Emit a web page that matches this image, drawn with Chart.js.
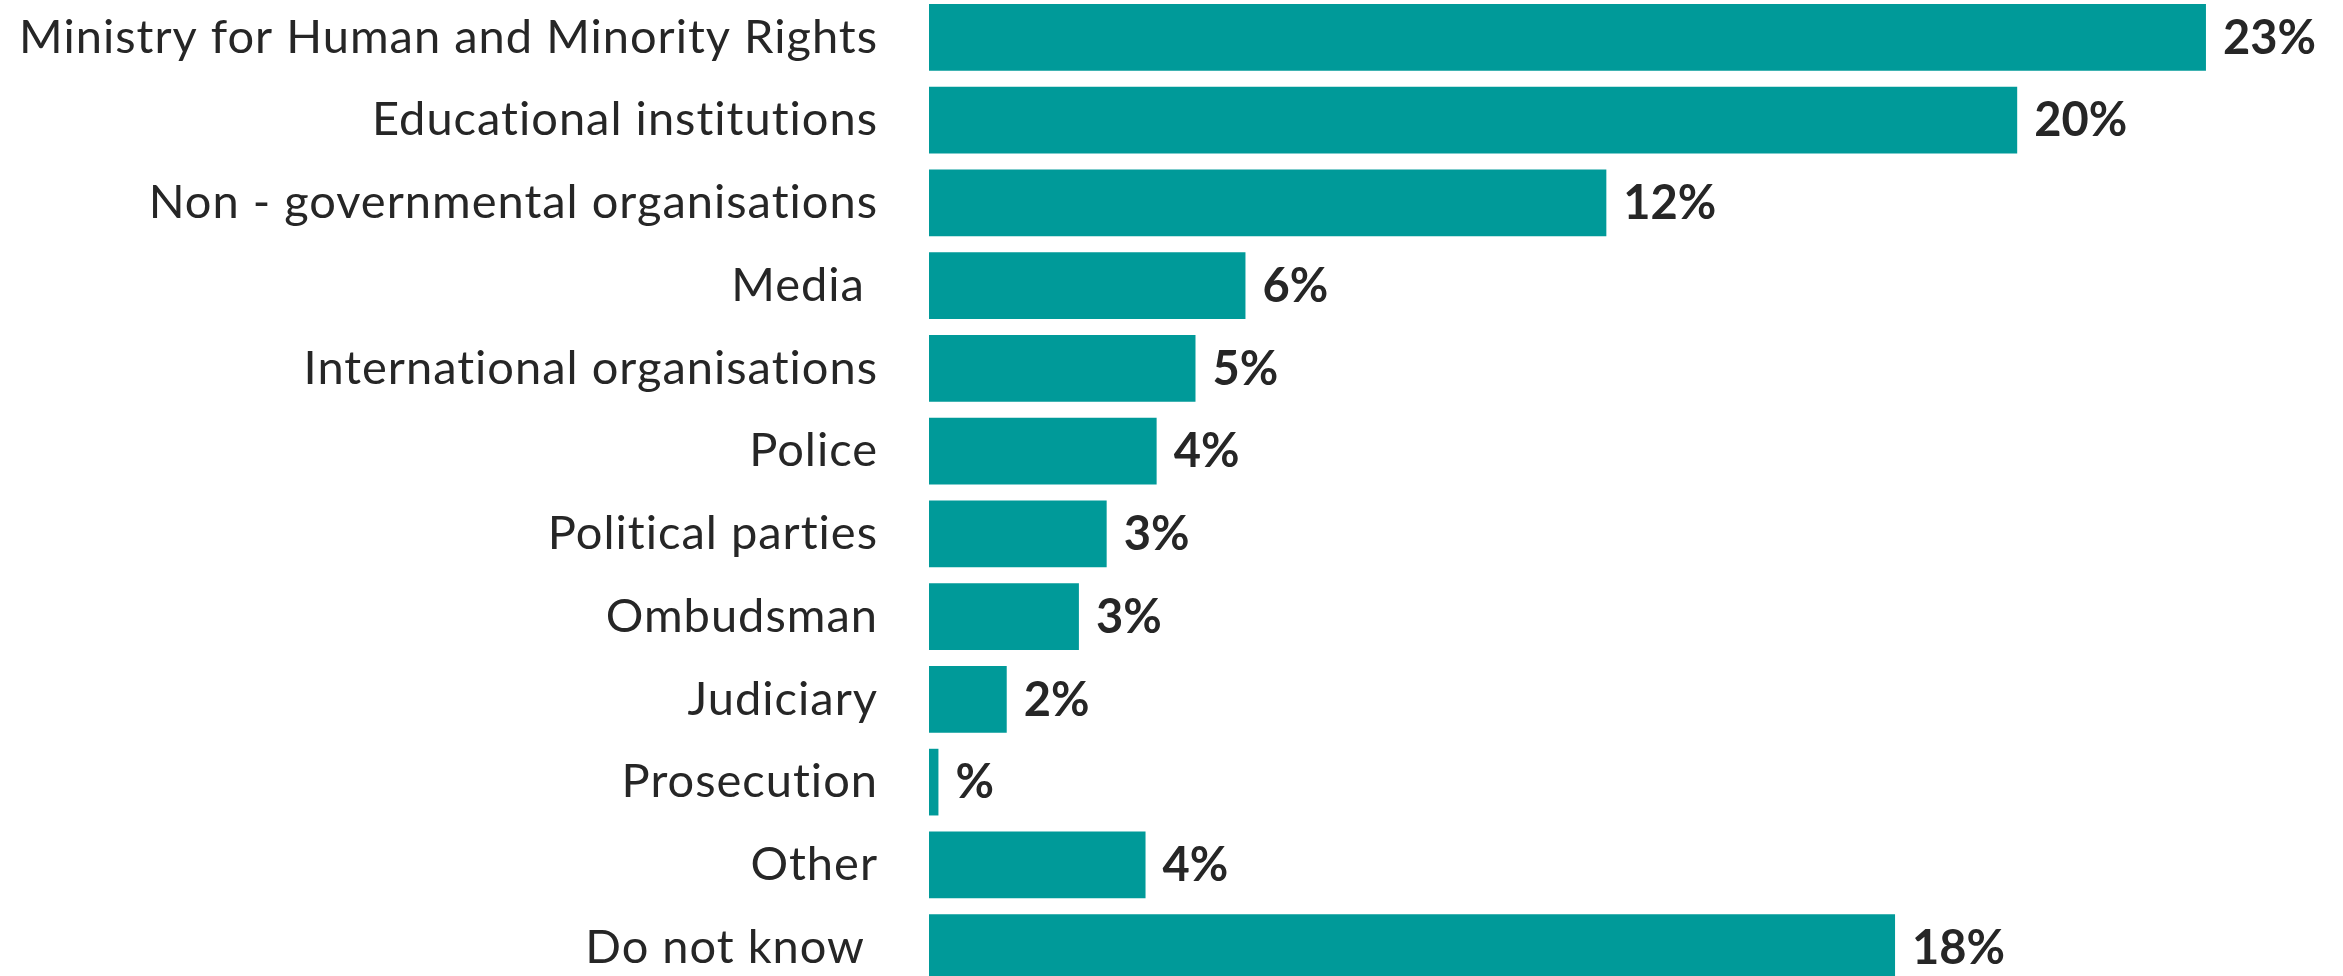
<!DOCTYPE html>
<html>
<head>
<meta charset="utf-8">
<script src="https://cdn.jsdelivr.net/npm/chart.js@4"></script>
<style>
  html, body { margin: 0; padding: 0; background: #fff; overflow: hidden; }
  #wrap { position: absolute; left: 0; top: -4px; width: 2343px; height: 993px; }
</style>
</head>
<body>
<div id="wrap"><canvas id="grafico"></canvas></div>
<script>
// categorias e valores
const categorias = [
  "Ministry for Human and Minority Rights",
  "Educational institutions",
  "Non - governmental organisations",
  "Media ",
  "International organisations",
  "Police",
  "Political parties",
  "Ombudsman",
  "Judiciary",
  "Prosecution",
  "Other",
  "Do not know "
];
const valores = [23.0, 19.6, 12.2, 5.7, 4.8, 4.1, 3.2, 2.7, 1.4, 0.17, 3.9, 17.4];
const rotulos = ["23%", "20%", "12%", "6%", "5%", "4%", "3%", "3%", "2%", "%", "4%", "18%"];

const corBarra = "#009a99";
const corTexto = "#262626";

// espaçamento entre letras dos nomes das categorias
const espacoLetras = {
  id: "espacoLetras",
  beforeDraw(chart) {
    chart.ctx.letterSpacing = "1px";
  }
};

// plugin simples para escrever os rótulos depois das barras
const rotulosPlugin = {
  id: "rotulos",
  afterDatasetsDraw(chart) {
    const ctx = chart.ctx;
    const meta = chart.getDatasetMeta(0);
    ctx.save();
    ctx.letterSpacing = "0px";
    ctx.font = "bold 47px Lato";
    ctx.fillStyle = corTexto;
    ctx.textAlign = "left";
    ctx.textBaseline = "middle";
    meta.data.forEach((barra, i) => {
      ctx.fillText(rotulos[i], barra.x + 17, barra.y + 1);
    });
    ctx.restore();
  }
};

const ctx = document.getElementById("grafico").getContext("2d");

new Chart(ctx, {
  type: "bar",
  data: {
    labels: categorias,
    datasets: [{
      data: valores,
      backgroundColor: corBarra,
      borderWidth: 0,
      barPercentage: 0.806,
      categoryPercentage: 1
    }]
  },
  options: {
    indexAxis: "y",
    responsive: true,
    maintainAspectRatio: false,
    animation: false,
    layout: { padding: { left: 0, right: 26, top: 0, bottom: 0 } },
    scales: {
      x: {
        display: false,
        min: 0,
        max: 25
      },
      y: {
        grid: { display: false, drawTicks: false },
        border: { display: false },
        ticks: {
          color: corTexto,
          font: { family: "Lato", size: 47 },
          padding: 51,
          autoSkip: false
        },
        afterFit(scale) {
          scale.width = 929;
          scale.paddingTop = 0;
          scale.paddingBottom = 0;
        }
      }
    },
    plugins: {
      legend: { display: false },
      tooltip: { enabled: false }
    }
  },
  plugins: [espacoLetras, rotulosPlugin]
});
</script>
</body>
</html>
